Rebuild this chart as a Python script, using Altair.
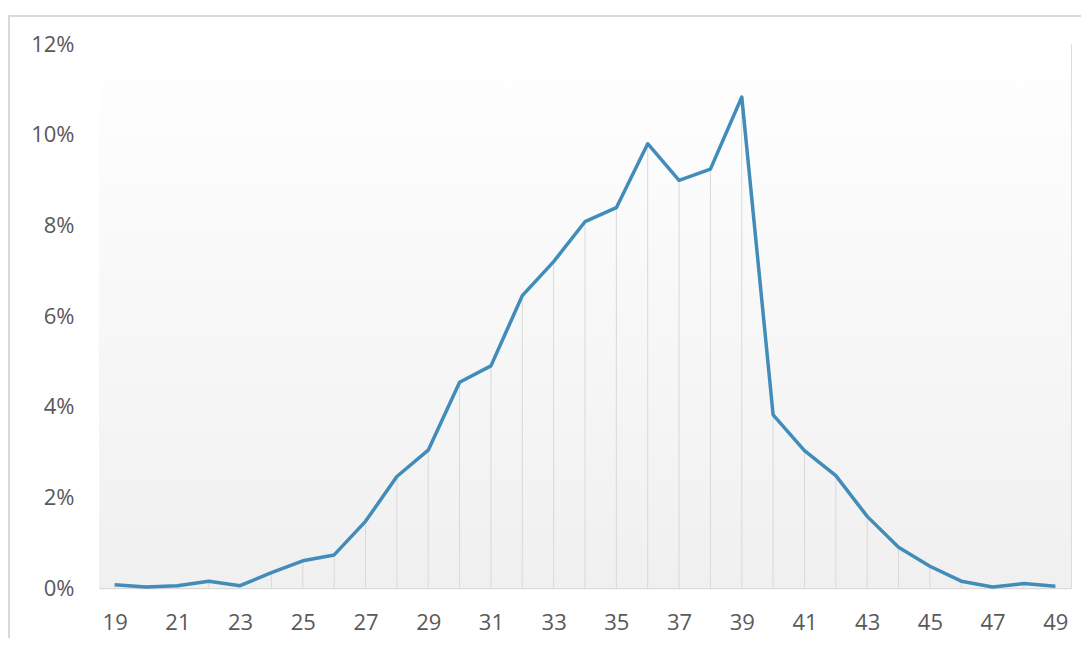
import altair as alt
import pandas as pd

ages = list(range(19, 50))
shares = [0.07, 0.02, 0.05, 0.15, 0.05, 0.34, 0.60, 0.73, 1.47, 2.46,
          3.04, 4.54, 4.90, 6.45, 7.20, 8.08, 8.39, 9.80, 8.99, 9.24,
          10.83, 3.82, 3.03, 2.48, 1.58, 0.90, 0.48, 0.15, 0.02, 0.10, 0.04]
x_ticks = list(range(19, 50, 2))
y_ticks = [0, 0.02, 0.04, 0.06, 0.08, 0.10, 0.12]

df = pd.DataFrame({"age": ages, "share": [v / 100 for v in shares]})

W, H = 972, 544
FONT = "Open Sans"
GRAY = "#595959"

xs = alt.Scale(domain=[18.5, 49.5], nice=False, zero=False)
ys = alt.Scale(domain=[0, 0.12], nice=False)

bg = alt.Chart(df).mark_rect(
    color=alt.LinearGradient(
        gradient="linear", x1=0, y1=0, x2=0, y2=1,
        stops=[alt.GradientStop(color="#ffffff", offset=0),
               alt.GradientStop(color="#f0f0f0", offset=1)]
    )
).encode(x=alt.value(0), x2=alt.value(W), y=alt.value(0), y2=alt.value(H))

border_top = alt.Chart(df).mark_rule(color="#d9d9d9", strokeWidth=2).encode(
    x=alt.value(-90), x2=alt.value(W + 40), y=alt.value(-28))
border_left = alt.Chart(df).mark_rule(color="#d9d9d9", strokeWidth=2).encode(
    x=alt.value(-90), y=alt.value(-29), y2=alt.value(H + 80))

drops = alt.Chart(df).mark_rule(color="#d9d9d9", strokeWidth=1).encode(
    x=alt.X("age:Q", scale=xs),
    y=alt.Y("share:Q", scale=ys),
    y2=alt.datum(0),
)

line = alt.Chart(df).mark_line(color="#418cb9", strokeWidth=3.5,
                               strokeJoin="round").encode(
    x=alt.X("age:Q", scale=xs,
            axis=alt.Axis(values=x_ticks, title=None, grid=False, ticks=False,
                          domainColor="#d9d9d9", domainWidth=1.5,
                          labelFont=FONT, labelFontSize=22, labelColor=GRAY,
                          labelPadding=24, format="d")),
    y=alt.Y("share:Q", scale=ys,
            axis=alt.Axis(values=y_ticks, title=None, grid=False, ticks=False,
                          domain=False, format=".0%",
                          labelFont=FONT, labelFontSize=22, labelColor=GRAY,
                          labelPadding=25)),
)

chart = alt.layer(bg, border_top, border_left, drops, line).properties(
    width=W, height=H,
    autosize=alt.AutoSizeParams(type="none"),
    padding={"left": 91, "top": 36, "right": 10, "bottom": 50},
).configure_view(stroke=None).configure(background="white")

chart.save("out.html", embed_options={"renderer": "svg", "actions": False})
